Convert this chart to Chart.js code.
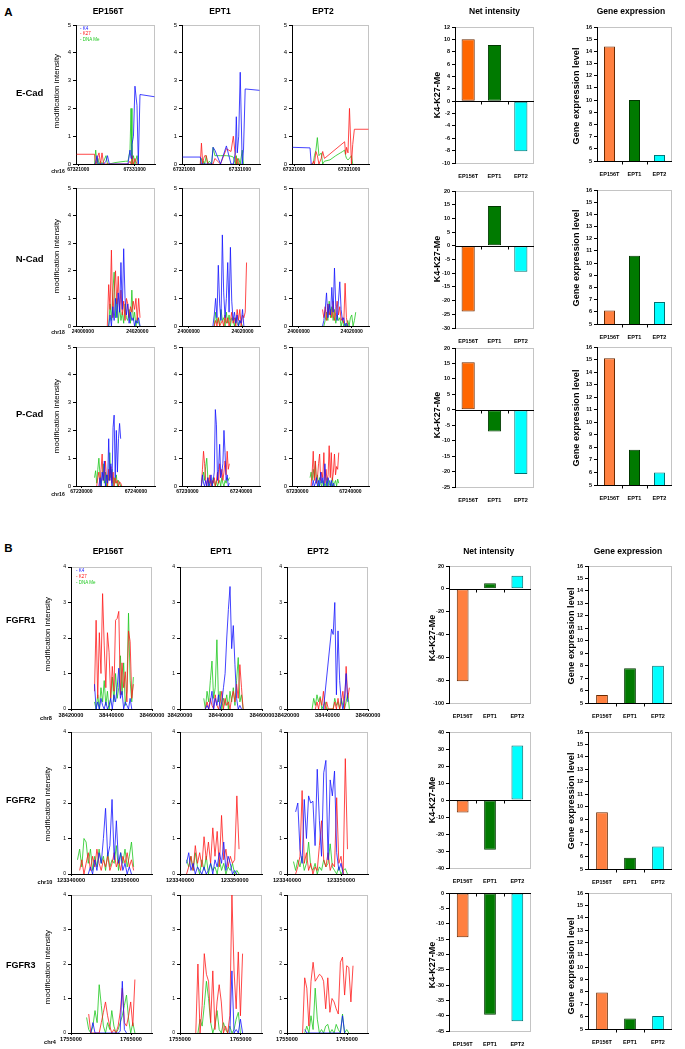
<!DOCTYPE html>
<html>
<head>
<meta charset="utf-8">
<script src="https://cdn.jsdelivr.net/npm/chart.js@4"></script>
<style>
  body { margin: 0; background: #fff; width: 685px; height: 1049px; position: relative; overflow: hidden; font-family: Arial, "Liberation Sans", sans-serif; }
  canvas { position: absolute; }
  .t { position: absolute; white-space: nowrap; line-height: 1; }
</style>
</head>
<body>
<script>
// ---- data ----
const samples = ["EP156T", "EPT1", "EPT2"];
const marks = ["K4", "K27", "DNA Me"];

// E-Cad (chr16)
const ecadPos = [67320700, 67323880, 67324090, 67324320, 67324500, 67324680, 67324950, 67325210, 67325500, 67325920, 67326180, 67326500, 67327510, 67328570, 67329400, 67329810, 67330170, 67330350, 67330520, 67330780, 67331050, 67331410, 67331640, 67331940, 67334500];
const ecadTicks = [67321000, 67331000];
const ecad_EP156T_K4  = [null, 0, 0.05, 0.3, 0, null, null, null, 0, 0.1, 0.3, 0, null, null, null, 0, 0.5, 0.2, 0.7, 1.0, 2.8, 2.1, 0, 2.5, 2.42];
const ecad_EP156T_K27 = [0.35, 0.35, 0, 0.1, 0.3, 0.4, 0, 0.4, 0, null, null, null, null, null, null, 0, 0.1, 0, 0.3, 0, 0.2, 0, null, null, null];
const ecad_EP156T_Me  = [null, 0, 0.5, 0, 0.2, 0, 0.1, 0, 0.1, 0.3, 0, 0, 0.05, 0.08, 0.1, 0.1, 0.5, 2.0, 0, 0.3, 0, 0.3, 0, null, null];
const ecad_EPT1_K4  = [0.25, 0.25, 0, null, null, null, null, null, null, 0, 0.6, 0.5, 0, 0.65, 0, 0, 0.4, 1.7, 0.4, 1.0, 3.3, 0, 0.5, 2.7, 2.65];
const ecad_EPT1_K27 = [null, 0, 0.75, 0, 0.2, 0.3, 0.3, 0, null, null, 0, 0.2, 0, 0.55, 0.45, 1.0, 0.3, 0, 0.2, 0, 0, null, null, null, null];
const ecad_EPT1_Me  = [null, 0, 0.2, 0, 0.1, 0, 0.3, 0, 0.1, 0, 0.6, 0.3, 0.3, 0.3, 0.28, 0.25, 0, 0.3, 0, 0.2, 0, 0.5, 0, null, null];
const ecad_EPT2_K4  = [0.6, 0.58, 0, null, null, null, null, null, null, null, null, null, null, null, null, null, null, null, null, null, null, null, null, null, null];
const ecad_EPT2_K27 = [null, null, 0, 0, 0.1, 0, 0.45, 0.3, 0, 0.2, 0.45, 0.2, null, null, null, null, 0.8, 0.35, 0.6, 0.4, 2.0, 0, 0.7, 1.25, 1.25];
const ecad_EPT2_Me  = [null, null, null, 0, 0.05, 0.3, 0.5, 0.95, 0.3, 0.4, 0, 0.1, 0.15, 0.3, 0.4, 0.45, 0.5, 0.3, 0.2, 0.15, 0.2, 0.3, 0, null, null];

// N-Cad (chr18)
const ncadPos = [24009000, 24009500, 24010000, 24010500, 24011000, 24011500, 24012000, 24012500, 24013000, 24013500, 24014000, 24014500, 24015000, 24015500, 24016000, 24016500, 24017000, 24017500, 24018000, 24018500, 24019000, 24019500, 24020000, 24020500, 24021000, 24021500];
const ncadTicks = [24000000, 24020000];
const ncad_EP156T_K4  = [null, 0, 0.4, 0, 0.7, 0.2, 1.0, 0.3, 1.2, 0.5, 2.3, 0.6, 2.8, 1.0, 0.4, 0.8, 0.1, 0.5, 0.2, 0.3, 0, 0.2, 0.1, 0.3, 0, null];
const ncad_EP156T_K27 = [0, 1.5, 0.6, 2.75, 0.3, 1.2, 2.0, 0.8, 1.8, 0.5, 1.3, 0.4, 0.9, 0.2, 1.0, 0.8, 0.3, 0.7, 0.5, 0.9, 0.6, 1.0, 0.2, 1.0, 0.3, null];
const ncad_EP156T_Me  = [null, 0, 0.8, 0.2, 1.2, 1.95, 0.3, 1.0, 0.1, 0.7, 0.2, 0.5, 0.1, 0.8, 0.3, 0.2, 0.6, 0.1, 1.3, 0.2, 0.5, 0, 0.3, 0.1, 0, null];
const ncad_EPT1_K4  = [0, 0.4, 1.0, 0.3, 2.2, 0.8, 0.2, 3.3, 1.2, 0.3, 1.0, 2.3, 0.5, 2.85, 0.9, 0.2, 0.5, 0.1, 0.4, 0, 0.2, 0.1, 0.6, 0, null, null];
const ncad_EPT1_K27 = [null, 0, 0.2, 0, 0.3, 0, 0.1, 0.2, 0, 0.4, 0.1, 0.3, 0, 0.2, 0.5, 0.1, 0.3, 0, 0.6, 0.2, 0.6, 0, 0.4, 0.3, 0.5, 2.3];
const ncad_EPT1_Me  = [null, 0, 0.5, 0.1, 0.3, 0, 0.6, 0.2, 0.3, 0, 0.5, 0.1, 0.4, 0, 0.3, 0.2, 0, 0.3, 0.1, 0, 0.2, 0.1, 0, null, null, null];
const ncad_EPT2_K4  = [0, 0.2, 0.6, 1.2, 0.3, 0.8, 0.4, 1.4, 0.5, 2.1, 0.7, 0.2, 0.9, 1.6, 0.6, 0.2, 0.3, 0, 0.1, 0, null, null, null, null, null, null];
const ncad_EPT2_K27 = [0.6, 0.3, 0.7, 0.2, 0.8, 0.4, 0.6, 0.3, 0.9, 0.2, 0.5, 0.9, 0.4, 0.7, 0.2, 0.3, 0.1, 1.55, 0.3, 0, null, null, null, null, null, null];
const ncad_EPT2_Me  = [null, 0, 0.2, 0.5, 0.2, 0.9, 0.3, 0.7, 0.2, 0.6, 0.1, 0.4, 0.2, 0.3, 0, 0.2, 0, 0.1, 0, 0.2, 0, 0.3, 0.4, 0, 0.2, 0.5];

// P-Cad (chr16)
const pcadPos = [67232400, 67232600, 67232800, 67233000, 67233200, 67233400, 67233600, 67233800, 67234000, 67234200, 67234400, 67234600, 67234800, 67235000, 67235200, 67235400, 67235600, 67235800, 67236000, 67236200, 67236400, 67236600, 67236800, 67237000, 67237200, 67237400, 67237600, 67237800, 67238000];
const pcadTicks = [67230000, 67240000];
const pcad_EP156T_K4  = [null, null, null, null, 0, 0.3, 0, 0.5, 0.2, 0.9, 0, 0.4, 0.1, 1.7, 0.2, 0.8, 0, 2.1, 2.55, 0.3, 2.0, 0.5, 1.7, 2.25, 1.7, null, null, null, null];
const pcad_EP156T_K27 = [null, null, 0, 0.3, 0.5, 0, 0.6, 1.15, 0.2, 0.4, 0.9, 0.3, 0, 0.6, 0.2, 0.7, 0.1, 0.5, 0, 0.3, 0.1, 0.2, 0, 0.15, 0.1, 0, null, null, null];
const pcad_EP156T_Me  = [0.3, 0.55, 0.1, 0.6, 1.0, 0.4, 0, 0.3, 0.8, 0.1, 0.5, 0, 0.4, 0.2, 1.2, 0.3, 0.6, 0, 0.3, 0.1, 0.4, 0, 0.2, 0.1, 0, null, null, null, null];
const pcad_EPT1_K4  = [null, 0, 0.4, 0.1, 0, 0.2, 0, 0.3, 0, 0.1, 0.4, 0, 0.2, 0.5, 2.75, 2.2, 0.2, 0.6, 1.5, 0.3, 0.5, 0.8, 2.0, 1.2, 0.2, 0.4, 0, 0.1, null];
const pcad_EPT1_K27 = [null, 0, 0.6, 1.25, 0.8, 0.2, 0, 0.3, 0.1, 0.4, 0, 0.2, 0.1, 0.3, 0, 0.2, 0.5, 0.1, 0.8, 0.3, 0.6, 0.2, 0.5, 0.9, 0.4, 1.25, 0.6, 0.8, null];
const pcad_EPT1_Me  = [null, 0, 0.3, 0.5, 0.2, 0.7, 1.0, 0.3, 0, 0.2, 0.1, 0, 0.3, 0.1, 0, 0.2, 0, 0.1, 0.2, 0, 0.3, 0.1, 0, 0.2, 0.1, 0.3, 0.2, 0.3, null];
const pcad_EPT2_K4  = [null, null, 0, 0.2, 0, 0.1, 0.3, 0, 0.2, 0, 0.5, 0.1, 0.3, 0, 0.8, 0.2, 0, 0.3, 0.1, 0, 0.2, 0, 0.1, 0, null, null, null, null, null];
const pcad_EPT2_K27 = [null, 0, 0.5, 1.25, 0.2, 0.9, 0.1, 0.3, 0.8, 1.15, 0.2, 0.5, 0.3, 1.2, 0.1, 0.6, 0.2, 0.4, 1.45, 0.3, 1.2, 0.2, 0.5, 1.15, 0.4, 0.7, 0.6, 1.2, null];
const pcad_EPT2_Me  = [0.3, 0.5, 0.2, 0.6, 0.3, 0.9, 0.1, 0.4, 0, 0.3, 0.1, 0, 0.2, 0, 0.1, 0, 0.3, 0, 0.2, 0.1, 0, 0.3, 0, 0.1, 0.2, 0, 0.25, 0.1, null];

// FGFR1 (chr8)
const fgfr1Pos = [38431600, 38432400, 38433200, 38434000, 38434800, 38435600, 38436400, 38437200, 38438000, 38438800, 38439600, 38440400, 38441200, 38442000, 38442800, 38443600, 38444400, 38445200, 38446000, 38446800, 38447600, 38448400, 38449200, 38450000, 38450800];
const fgfr1Ticks = [38420000, 38440000, 38460000];
const fgfr1_EP156T_K4  = [0.7, 0, 0.2, 0, 0.3, 0.1, 0, 0.2, 0, 0.1, 0.3, 0, 0.4, 0.2, 0.6, 1.15, 0.3, 0.5, 0, 0.2, 0.1, 0, 0.3, 0, null];
const fgfr1_EP156T_K27 = [0.5, 2.5, 0.3, 2.15, 1.0, 3.25, 1.8, 0.6, 2.15, 1.6, 0.3, 1.2, 0.5, 2.5, 2.55, 2.75, 0.4, 1.3, 0.6, 1.05, 0.2, 2.2, 1.9, 0.3, 0.7];
const fgfr1_EP156T_Me  = [0.2, 0, 0.4, 0, 0.6, 0.2, 0.8, 0.1, 0.5, 0, 0.3, 0.9, 0.2, 1.0, 0.3, 0.6, 1.5, 0.4, 1.3, 0.1, 0.5, 2.7, 0.8, 0.2, 0.9];
const fgfr1_EPT1_K4  = [null, 0, 0.1, 0, 0.2, 0.5, 0, 0.3, 0.1, 0.4, 0, 0.2, 0.6, 1.0, 2.0, 2.8, 3.45, 1.7, 2.35, 1.25, 0.3, 0, 0.1, 0, null];
const fgfr1_EPT1_K27 = [null, 0, 0.2, 0, 0.3, 0.1, 0, 0.4, 0.1, 0, 0.2, 0.5, 0, 0.3, 0.1, 0.2, 0, 0.3, 0.5, 0.2, 0.7, 0.3, 1.25, 0.6, 0];
const fgfr1_EPT1_Me  = [0.3, 0, 0.5, 0.2, 0.8, 1.35, 0.3, 0.6, 1.95, 0.2, 0.5, 0, 0.3, 0.1, 0.4, 0, 0.5, 0.2, 0.6, 0.1, 0.8, 1.45, 0.2, 0.4, 0];
const fgfr1_EPT2_K4  = [null, null, null, null, null, null, null, null, 0, null, null, null, null, 2.25, 2.1, 3.0, 0.4, 2.2, 0.8, 0.2, 0, 0.3, 1.0, 0.2, null];
const fgfr1_EPT2_K27 = [null, null, null, 0, 0.2, 0, 0.3, 0.1, 0.5, 0, 0.2, 0, null, null, 0, 0.2, 0, 0.3, 0, 0.2, 0.5, 0, 1.2, 0.3, 0.6];
const fgfr1_EPT2_Me  = [null, 0, 0.3, 0.1, 0.4, 0.2, 0.35, 0, 0.1, 0.2, 0, null, null, null, 0, 0.3, 0.1, 0.2, 0, 0.3, 0.1, 0, 0.2, 0.45, 0];

// FGFR2 (chr10)
const fgfr2Pos = [123341200, 123341600, 123342000, 123342400, 123342800, 123343200, 123343600, 123344000, 123344400, 123344800, 123345200, 123345600, 123346000, 123346400, 123346800, 123347200, 123347600, 123348000, 123348400, 123348800, 123349200, 123349600, 123350000, 123350400, 123350800, 123351200, 123351600];
const fgfr2Ticks = [123340000, 123350000];
const fgfr2_EP156T_K4  = [null, null, null, null, null, 0, 0.2, 0, 0.4, 0.1, 0.6, 0.3, 1.0, 1.85, 0.5, 0.8, 2.1, 0.4, 1.5, 0.3, 0.6, 0.1, 0.3, 0, 0.2, 0, null];
const fgfr2_EP156T_K27 = [null, 0.1, 0.4, 0, 0.3, 0.6, 0.1, 0.5, 0.2, 0.7, 0.3, 0.1, 0.4, 0.2, 0.5, 0.1, 0.3, 0.6, 0.2, 0.4, 0.1, 0.5, 0.3, 0.6, 0.2, 0.4, 0.1];
const fgfr2_EP156T_Me  = [0.4, 0.7, 0.2, 1.0, 0.9, 0.3, 0.7, 0.1, 0.5, 0.2, 0.7, 0.3, 0.5, 0.1, 0.6, 0.2, 0.4, 0.3, 0.8, 0.1, 0.6, 0.3, 0.7, 0.2, 0.5, 0.9, 0.2];
const fgfr2_EPT1_K4  = [0.3, 0.6, 0.1, 0.3, 0, 0.2, 0.1, 0, 0.2, 0, 0.1, 0.3, 0, 0.4, 0.2, 0.6, 0.3, 0.9, 0.1, 0.5, 0.3, 0, 0.1, 0, null, null, null];
const fgfr2_EPT1_K27 = [0, 0.2, 0.5, 0.1, 0.8, 0.3, 0.6, 0.2, 1.05, 0.4, 0.9, 0.3, 1.3, 0.5, 1.2, 0.2, 1.65, 0.4, 0.7, 0.2, 0.5, 0.3, 0.4, 2.2, 0.7, null, null];
const fgfr2_EPT1_Me  = [0.4, 0.2, 0.5, 0.1, 0.6, 0.2, 0, 0.4, 0.1, 0.5, 0, 0.3, 0.1, 0.2, 0, 0.4, 0.1, 0.3, 0, 0.2, 0.1, 0.3, 0, 0.1, 0, null, null];
const fgfr2_EPT2_K4  = [null, 1.75, 2.0, 0.7, 0.3, 2.1, 1.0, 2.2, 2.0, 2.05, 0.8, 2.95, 1.5, 0.5, 2.85, 3.2, 0.4, 2.65, 2.2, 2.9, 0.6, 0.1, 0.3, 0, null, null, null];
const fgfr2_EPT2_K27 = [null, 0, 0.2, 0.5, 2.35, 0.3, 0.6, 0.1, 0.3, 0, 0.2, 0.1, 0.8, 1.5, 0.4, 0.2, 0.6, 0.1, 0.3, 0.2, 2.15, 0.3, 0.5, 0, 3.25, 0.7, null];
const fgfr2_EPT2_Me  = [0.35, 0.1, 0.4, 0.2, 0.5, 0.1, 0.3, 0.9, 0.2, 0.1, 0.3, 0, 0.2, 0.1, 0.4, 0.2, 0.3, 0.85, 0.2, 0.1, 0, 0.2, 0, 0.1, 0.15, 0, null];

// FGFR3 (chr4)
const fgfr3Pos = [1757600, 1757950, 1758300, 1758650, 1759000, 1759350, 1759700, 1760050, 1760400, 1760750, 1761100, 1761450, 1761800, 1762150, 1762500, 1762850, 1763200, 1763550, 1763900, 1764250, 1764600, 1764950, 1765300, 1765650, 1766000];
const fgfr3Ticks = [1755000, 1765000];
const fgfr3_EP156T_K4  = [null, null, 0, 0.3, 0, null, null, null, null, null, null, null, null, null, null, 0, 0.05, 1.5, 0.1, 0, null, null, null, null, null];
const fgfr3_EP156T_K27 = [null, 0.55, 0, null, null, null, 0, 0.3, 0.6, 0.9, 0.5, 0.2, 0, 0.1, 0, 0.2, 0.6, 1.3, 0.3, 0.2, 0.5, 0.9, 0.2, 1.55, null];
const fgfr3_EP156T_Me  = [0.45, 0.1, 0, 0.2, 0.65, 0.3, 1.4, 0.8, 0.2, 0, 0.3, 0.1, 0.65, 0.2, 0, 0.1, 0.3, 0.5, 0.8, 1.1, 0.4, 0, 0.3, 0, null];
const fgfr3_EPT1_K4  = [null, null, null, null, null, null, null, null, null, null, null, null, null, null, null, null, 0, 1.8, 0, 0.1, 0, 0.4, 0, null, null];
const fgfr3_EPT1_K27 = [0, 2.0, 0, 0.8, 2.3, 1.7, 1.5, 0.3, 1.8, 0.1, 0.9, 1.4, 0.9, 0, 0.2, 0, 0.5, 4.0, 1.8, 0.7, 2.35, 0.5, 2.3, null, null];
const fgfr3_EPT1_Me  = [null, 0, 0.4, 0.2, 0.8, 1.5, 1.0, 0.3, 0, 0.2, 0.65, 0.1, 0, 0.3, 0.1, 0, 0.2, 0, 0.1, 0.4, 0.6, 0, null, null, null];
const fgfr3_EPT2_K4  = [null, 0.1, 0, null, null, null, null, null, null, null, null, null, null, null, null, null, null, null, 0, 0.5, 0, null, null, null, null];
const fgfr3_EPT2_K27 = [0, 1.6, 1.3, 0.2, 1.5, 2.05, 1.5, 1.6, 1.7, 1.65, 1.5, 0.7, 1.6, 0.6, 1.0, 0.9, 0.7, 0.55, 2.05, 2.2, 1.1, 1.95, 1.9, 0.9, 1.95];
const fgfr3_EPT2_Me  = [null, 0, 0.2, 0, 0.5, 0.1, 1.3, 0.4, 0, 0.1, 0, 0.2, 0.25, 0, 0.1, 0, 0.25, 0.1, 0, 0.55, 0, 0.1, 0, null, null];

// net intensity (K4-K27-Me) and gene expression level
const netECad = [10, 9.1, -8.1];
const exprECad = [14.4, 10.0, 5.5];
const netNCad = [-24, 14.5, -9.5];
const exprNCad = [6.1, 10.6, 6.8];
const netPCad = [15.4, -7, -20.8];
const exprPCad = [15.1, 7.8, 6.0];
const netFGFR1 = [-81, 5, 11.5];
const exprFGFR1 = [5.65, 7.8, 8.0];
const netFGFR2 = [-7.3, -29.3, 32];
const exprFGFR2 = [9.55, 5.9, 6.8];
const netFGFR3 = [-14.4, -39.7, -41.8];
const exprFGFR3 = [7.95, 5.85, 6.05];

// ---- gene rows (built from the arrays above) ----
const rowsA = [
  { name: "E-Cad", chr: "chr16", pos: ecadPos, range: [67320600, 67334600], ticks: ecadTicks,
    traces: [[ecad_EP156T_K4, ecad_EP156T_K27, ecad_EP156T_Me], [ecad_EPT1_K4, ecad_EPT1_K27, ecad_EPT1_Me], [ecad_EPT2_K4, ecad_EPT2_K27, ecad_EPT2_Me]],
    net: netECad, netAxis: [-10, 12, 2], expr: exprECad },
  { name: "N-Cad", chr: "chr18", pos: ncadPos, range: [23997500, 24026500], ticks: ncadTicks,
    traces: [[ncad_EP156T_K4, ncad_EP156T_K27, ncad_EP156T_Me], [ncad_EPT1_K4, ncad_EPT1_K27, ncad_EPT1_Me], [ncad_EPT2_K4, ncad_EPT2_K27, ncad_EPT2_Me]],
    net: netNCad, netAxis: [-30, 20, 5], expr: exprNCad },
  { name: "P-Cad", chr: "chr16", pos: pcadPos, range: [67229000, 67243500], ticks: pcadTicks,
    traces: [[pcad_EP156T_K4, pcad_EP156T_K27, pcad_EP156T_Me], [pcad_EPT1_K4, pcad_EPT1_K27, pcad_EPT1_Me], [pcad_EPT2_K4, pcad_EPT2_K27, pcad_EPT2_Me]],
    net: netPCad, netAxis: [-25, 20, 5], expr: exprPCad }
];
const rowsB = [
  { name: "FGFR1", chr: "chr8", pos: fgfr1Pos, range: [38420000, 38460000], ticks: fgfr1Ticks,
    traces: [[fgfr1_EP156T_K4, fgfr1_EP156T_K27, fgfr1_EP156T_Me], [fgfr1_EPT1_K4, fgfr1_EPT1_K27, fgfr1_EPT1_Me], [fgfr1_EPT2_K4, fgfr1_EPT2_K27, fgfr1_EPT2_Me]],
    net: netFGFR1, netAxis: [-100, 20, 20], expr: exprFGFR1 },
  { name: "FGFR2", chr: "chr10", pos: fgfr2Pos, range: [123340000, 123355000], ticks: fgfr2Ticks,
    traces: [[fgfr2_EP156T_K4, fgfr2_EP156T_K27, fgfr2_EP156T_Me], [fgfr2_EPT1_K4, fgfr2_EPT1_K27, fgfr2_EPT1_Me], [fgfr2_EPT2_K4, fgfr2_EPT2_K27, fgfr2_EPT2_Me]],
    net: netFGFR2, netAxis: [-40, 40, 10], expr: exprFGFR2 },
  { name: "FGFR3", chr: "chr4", pos: fgfr3Pos, range: [1755000, 1768500], ticks: fgfr3Ticks,
    traces: [[fgfr3_EP156T_K4, fgfr3_EP156T_K27, fgfr3_EP156T_Me], [fgfr3_EPT1_K4, fgfr3_EPT1_K27, fgfr3_EPT1_Me], [fgfr3_EPT2_K4, fgfr3_EPT2_K27, fgfr3_EPT2_Me]],
    net: netFGFR3, netAxis: [-45, 0, 5], expr: exprFGFR3 }
];

// ---- layout / style ----
const MARK_COLORS = ["#1414ff", "#ff1a1a", "#1ec81e"];
const BAR_EDGES = ["#6b2a00", "#003800", "#007070"];
const layoutA = {
  traceX: [76, 182, 292], traceW: [79, 78, 77], traceTop: [25, 188, 347], traceBot: [164, 326, 486],
  netX: 455, netW: 79, netTop: [27, 191, 348], netBot: [163, 328, 487],
  exprX: 597, exprW: 75, exprTop: [27, 190, 347], exprBot: [161, 324, 485],
  ymax: 5, yFont: 6, xFont: 5, netBar: 0.5, exprBar: 0.44,
  netColors: ["#ff6600", "#007a00", "#00ffff"], exprColors: ["#ff8040", "#007a00", "#00ffff"]
};
const layoutB = {
  traceX: [71, 180, 287], traceW: [81, 82, 81], traceTop: [567, 732, 895], traceBot: [709, 874, 1033],
  netX: 449, netW: 82, netTop: [566, 732, 893], netBot: [703, 868, 1031],
  exprX: 588, exprW: 84, exprTop: [566, 732, 893], exprBot: [703, 869, 1029],
  ymax: 4, yFont: 5, xFont: 5.6, netBar: 0.43, exprBar: 0.42,
  netColors: ["#ff8040", "#007a00", "#00ffff"], exprColors: ["#ff8040", "#007a00", "#00ffff"]
};

Chart.defaults.font.family = 'Arial, "Liberation Sans", sans-serif';
Chart.defaults.color = "#000";

const PL = 40, PT = 8, PR = 28, PB = 16;

function addCanvas(x0, top, w, h) {
  const cv = document.createElement("canvas");
  cv.width = w + PL + PR;
  cv.height = h + PT + PB;
  cv.style.left = (x0 - PL) + "px";
  cv.style.top = (top - PT) + "px";
  document.body.appendChild(cv);
  return cv;
}

// light grey plot-area box (Excel style)
const framePlugin = {
  id: "frame",
  beforeDraw(chart) {
    const a = chart.chartArea, c = chart.ctx;
    c.save();
    c.strokeStyle = "#c4c4c4";
    c.lineWidth = 1;
    c.strokeRect(Math.round(a.left) + 0.5, Math.round(a.top) + 0.5, Math.round(a.right - a.left) - 1, Math.round(a.bottom - a.top));
    c.restore();
  }
};

// zero / base line of the bar charts with small ticks between categories
const baselinePlugin = {
  id: "baseline",
  afterDatasetsDraw(chart, args, opts) {
    const a = chart.chartArea, c = chart.ctx;
    const y = Math.round(chart.scales.y.getPixelForValue(opts.value)) + 0.5;
    const n = chart.data.labels.length;
    c.save();
    c.strokeStyle = "#000";
    c.lineWidth = 1;
    c.beginPath();
    c.moveTo(a.left, y);
    c.lineTo(a.right, y);
    for (let i = 1; i < n; i++) {
      const x = Math.round(a.left + (a.right - a.left) * i / n) + 0.5;
      c.moveTo(x, y);
      c.lineTo(x, y + 3);
    }
    c.stroke();
    c.restore();
  }
};

function traceChart(x0, top, w, h, g, s, L) {
  const cv = addCanvas(x0, top, w, h);
  const mk = (vals, col) => ({
    data: g.pos.map((p, i) => ({ x: p, y: vals[i] })),
    borderColor: col, borderWidth: 0.8, pointRadius: 0, tension: 0, spanGaps: true, fill: false
  });
  const tr = g.traces[s];
  new Chart(cv, {
    type: "line",
    data: { datasets: [mk(tr[0], MARK_COLORS[0]), mk(tr[1], MARK_COLORS[1]), mk(tr[2], MARK_COLORS[2])] },
    options: {
      responsive: false, animation: false, devicePixelRatio: 1, events: [],
      layout: { padding: { left: 0, top: PT, right: PR, bottom: 0 } },
      plugins: { legend: { display: false }, tooltip: { enabled: false } },
      scales: {
        x: {
          type: "linear", min: g.range[0], max: g.range[1],
          afterBuildTicks: sc => { sc.ticks = g.ticks.map(v => ({ value: v })); },
          afterFit: sc => { sc.height = PB; },
          grid: { drawOnChartArea: false, drawTicks: true, tickLength: 2, color: "#000" },
          border: { color: "#000" },
          ticks: { autoSkip: false, maxRotation: 0, minRotation: 0, padding: 1,
                   font: { size: L.xFont, weight: "bold" }, color: "#000", callback: v => String(v) }
        },
        y: {
          min: 0, max: L.ymax,
          afterFit: sc => { sc.width = PL; },
          grid: { drawOnChartArea: false, tickLength: 3, color: "#000" },
          border: { color: "#000" },
          ticks: { stepSize: 1, padding: 2, font: { size: L.yFont }, color: "#000" }
        }
      }
    },
    plugins: [framePlugin]
  });
}

function barChart(x0, top, w, h, vals, axis, base, colors, pct) {
  const cv = addCanvas(x0, top, w, h);
  new Chart(cv, {
    type: "bar",
    data: {
      labels: samples,
      datasets: [{ data: vals, backgroundColor: colors, borderColor: BAR_EDGES, borderWidth: 1,
                   borderSkipped: false, barPercentage: pct, categoryPercentage: 1 }]
    },
    options: {
      responsive: false, animation: false, devicePixelRatio: 1, events: [],
      layout: { padding: { left: 0, top: PT, right: PR, bottom: 0 } },
      plugins: { legend: { display: false }, tooltip: { enabled: false }, baseline: { value: base } },
      scales: {
        x: {
          afterFit: sc => { sc.height = PB; },
          grid: { display: false }, border: { display: false },
          ticks: { padding: 2, autoSkip: false, maxRotation: 0, minRotation: 0,
                   font: { size: 5.5, weight: "bold" }, color: "#000" }
        },
        y: {
          min: axis[0], max: axis[1],
          afterFit: sc => { sc.width = PL; },
          grid: { drawOnChartArea: false, tickLength: 3, color: "#000" },
          border: { color: "#000" },
          ticks: { stepSize: axis[2], padding: 2, font: { size: 5.5, weight: "bold" }, color: "#000" }
        }
      }
    },
    plugins: [framePlugin, baselinePlugin]
  });
}

function drawPanel(rows, L) {
  rows.forEach((g, r) => {
    const top = L.traceTop[r], h = L.traceBot[r] - top;
    for (let s = 0; s < 3; s++) traceChart(L.traceX[s], top, L.traceW[s], h, g, s, L);
    barChart(L.netX, L.netTop[r], L.netW, L.netBot[r] - L.netTop[r], g.net, g.netAxis, 0, L.netColors, L.netBar);
    barChart(L.exprX, L.exprTop[r], L.exprW, L.exprBot[r] - L.exprTop[r], g.expr, [5, 16, 1], 5, L.exprColors, L.exprBar);
  });
}

drawPanel(rowsA, layoutA);
drawPanel(rowsB, layoutB);

// ---- text ----
function txt(s, x, y, size, opt = {}) {
  const d = document.createElement("div");
  d.className = "t";
  d.textContent = s;
  d.style.left = x + "px";
  d.style.top = y + "px";
  let fs = size, sc = "";
  if (size < 6) { fs = size * 2; sc = " scale(0.5)"; }
  d.style.fontSize = fs + "px";
  d.style.fontWeight = opt.bold ? "bold" : "normal";
  if (opt.color) d.style.color = opt.color;
  if (opt.left) {
    d.style.transformOrigin = "0 50%";
    d.style.transform = "translate(0,-50%)" + sc;
  } else {
    d.style.transform = "translate(-50%,-50%)" + (opt.rot ? " rotate(-90deg)" : "") + sc;
  }
  document.body.appendChild(d);
}

// panel letters
txt("A", 8.5, 13, 11.5, { bold: true });
txt("B", 8.5, 548.5, 11.5, { bold: true });

// column headers
const headA = [108, 220, 323, 494.5, 631];
const headB = [108, 221, 318, 488.7, 628];
const heads = samples.concat(["Net intensity", "Gene expression"]);
heads.forEach((h, i) => { txt(h, headA[i], 10.5, 8.5, { bold: true }); txt(h, headB[i], 551, 8.5, { bold: true }); });

// row labels and axis titles
const rowYA = [92.7, 258.5, 414], rowYB = [620.3, 800, 965];
const modYA = [91, 256, 416], modYB = [634, 803.5, 966.5];
const netYA = [95, 258.5, 415], netYB = [638, 800, 965];
const expYA = [96, 257.5, 417.5], expYB = [636, 801, 966];
const chrA = [[57.5, 171.2], [57.5, 331.5], [57.5, 494]];
const chrB = [[45.5, 718], [45, 882.3], [49.7, 1041.7]];
rowsA.forEach((g, r) => {
  txt(g.name, 29.7, rowYA[r], 9.5, { bold: true });
  txt("modification intensity", 57.3, modYA[r], 8, { rot: true });
  txt("K4-K27-Me", 437.3, netYA[r], 9, { bold: true, rot: true });
  txt("Gene expression level", 576.7, expYA[r], 9.2, { bold: true, rot: true });
  txt(g.chr, chrA[r][0], chrA[r][1], 5, { bold: true });
});
rowsB.forEach((g, r) => {
  txt(g.name, 20.8, rowYB[r], 9, { bold: true });
  txt("modification intensity", 48.3, modYB[r], 8, { rot: true });
  txt("K4-K27-Me", 431.7, netYB[r], 9, { bold: true, rot: true });
  txt("Gene expression level", 571.7, expYB[r], 9.2, { bold: true, rot: true });
  txt(g.chr, chrB[r][0], chrB[r][1], 5.6, { bold: true });
});

// small legends inside the first trace plot of each panel
const legYA = [29.3, 34.3, 39.7], legYB = [571.3, 577, 582.7];
marks.forEach((m, i) => {
  txt("- " + m, 80, legYA[i], 4.5, { left: true, color: MARK_COLORS[i] });
  txt("- " + m, 76, legYB[i], 4.5, { left: true, color: MARK_COLORS[i] });
});
</script>
</body>
</html>
